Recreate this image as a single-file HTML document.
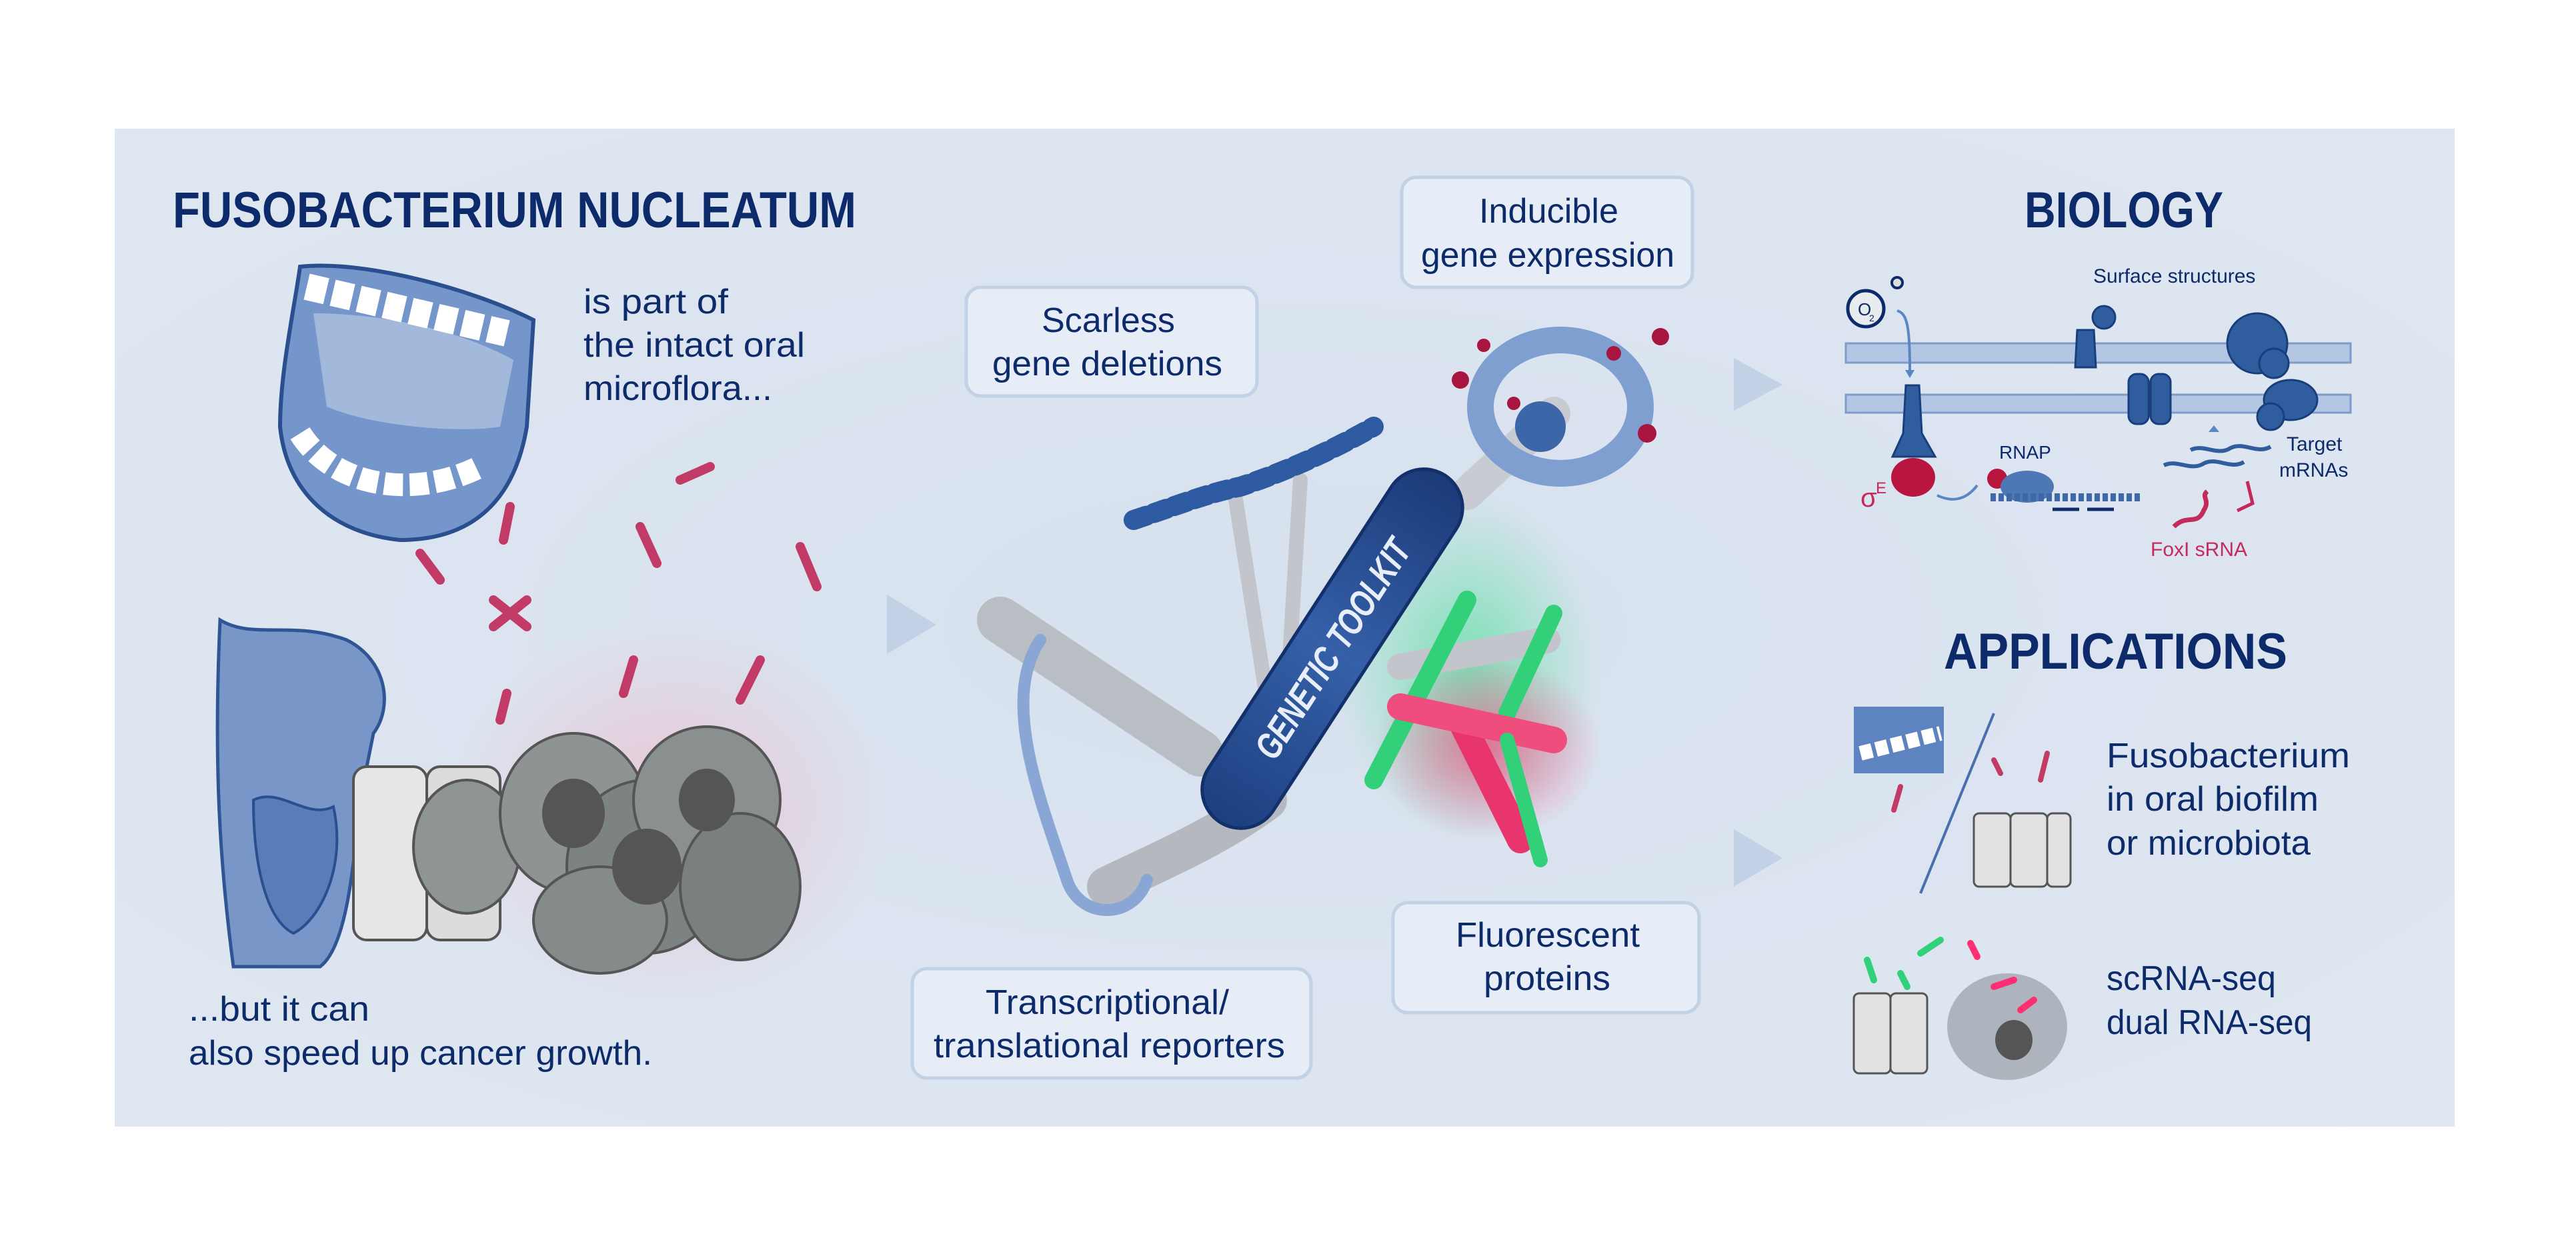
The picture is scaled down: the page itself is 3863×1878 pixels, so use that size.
<!DOCTYPE html>
<html><head><meta charset="utf-8"><style>
html,body{margin:0;padding:0;background:#fff;}
svg{display:block;}
text{font-family:"Liberation Sans",sans-serif;}
</style></head><body>
<svg width="3863" height="1878" viewBox="0 0 3863 1878" xmlns="http://www.w3.org/2000/svg">
<defs>
<radialGradient id="bg" cx="50%" cy="50%" r="70%">
<stop offset="0" stop-color="#d7e1ee"/><stop offset="1" stop-color="#dfe7f1"/></radialGradient>
<radialGradient id="pink" cx="50%" cy="50%" r="50%"><stop offset="0" stop-color="#f0b8c8" stop-opacity=".7"/><stop offset="1" stop-color="#f0b8c8" stop-opacity="0"/></radialGradient>
<radialGradient id="gl" cx="50%" cy="50%" r="50%"><stop offset="0" stop-color="#40e090" stop-opacity=".6"/><stop offset="1" stop-color="#40e090" stop-opacity="0"/></radialGradient>
<radialGradient id="rl" cx="50%" cy="50%" r="50%"><stop offset="0" stop-color="#ff3070" stop-opacity=".6"/><stop offset="1" stop-color="#ff3070" stop-opacity="0"/></radialGradient>
<linearGradient id="hand" x1="0" y1="0" x2="1" y2="0"><stop offset="0" stop-color="#1d3f80"/><stop offset=".5" stop-color="#3560a8"/><stop offset="1" stop-color="#1b3a78"/></linearGradient>
</defs>
<rect x="172" y="193" width="3509" height="1497" fill="url(#bg)"/>

<g fill="#0d2a6b" font-weight="bold">
<text x="259" y="341" font-size="76" textLength="1025" lengthAdjust="spacingAndGlyphs">FUSOBACTERIUM NUCLEATUM</text>
<text x="3036" y="341" font-size="76" textLength="298" lengthAdjust="spacingAndGlyphs">BIOLOGY</text>
<text x="2915" y="1003" font-size="76" textLength="515" lengthAdjust="spacingAndGlyphs">APPLICATIONS</text>
</g>
<g fill="#0d2a6b" font-size="52">
<text x="875" y="470" textLength="217" lengthAdjust="spacingAndGlyphs">is part of</text>
<text x="875" y="535" textLength="332" lengthAdjust="spacingAndGlyphs">the intact oral</text>
<text x="875" y="600" textLength="283" lengthAdjust="spacingAndGlyphs">microflora...</text>
<text x="283" y="1531" textLength="271" lengthAdjust="spacingAndGlyphs">...but it can</text>
<text x="283" y="1597" textLength="695" lengthAdjust="spacingAndGlyphs">also speed up cancer growth.</text>
<text x="3159" y="1151" textLength="365" lengthAdjust="spacingAndGlyphs">Fusobacterium</text>
<text x="3159" y="1216" textLength="318" lengthAdjust="spacingAndGlyphs">in oral biofilm</text>
<text x="3159" y="1282" textLength="306" lengthAdjust="spacingAndGlyphs">or microbiota</text>
<text x="3159" y="1485" textLength="254" lengthAdjust="spacingAndGlyphs">scRNA-seq</text>
<text x="3159" y="1551" textLength="308" lengthAdjust="spacingAndGlyphs">dual RNA-seq</text>
</g>

<g fill="#e6edf6" stroke="#c3d1e5" stroke-width="5">
<rect x="1449" y="431" width="436" height="163" rx="22"/>
<rect x="2102" y="266" width="436" height="165" rx="22"/>
<rect x="1368" y="1453" width="598" height="164" rx="22"/>
<rect x="2089" y="1354" width="459" height="165" rx="22"/>
</g>
<g fill="#0d2a6b" font-size="52">
<text x="1562" y="498" textLength="200" lengthAdjust="spacingAndGlyphs">Scarless</text>
<text x="1488" y="563" textLength="345" lengthAdjust="spacingAndGlyphs">gene deletions</text>
<text x="2218" y="334" textLength="209" lengthAdjust="spacingAndGlyphs">Inducible</text>
<text x="2131" y="400" textLength="380" lengthAdjust="spacingAndGlyphs">gene expression</text>
<text x="1478" y="1521" textLength="365" lengthAdjust="spacingAndGlyphs">Transcriptional/</text>
<text x="1400" y="1586" textLength="527" lengthAdjust="spacingAndGlyphs">translational reporters</text>
<text x="2183" y="1420" textLength="276" lengthAdjust="spacingAndGlyphs">Fluorescent</text>
<text x="2225" y="1485" textLength="190" lengthAdjust="spacingAndGlyphs">proteins</text>
</g>

<g fill="#c2d1e6">
<polygon points="1330,892 1404,937 1330,981"/>
<polygon points="2600,537 2673,577 2600,616"/>
<polygon points="2600,1244 2673,1287 2600,1330"/>
</g>

<!-- jaw -->
<g>
<path d="M450,400 C540,390 700,430 800,480 L790,640 C770,760 700,810 600,810 C500,800 430,740 420,640 C420,560 440,470 450,400Z" fill="#7496ca" stroke="#2a4f8f" stroke-width="6"/>
<path d="M470,470 C560,470 680,490 770,540 L750,640 C690,650 560,640 490,610Z" fill="#a3b9dc"/>
<path d="M460,430 L760,500" stroke="#fff" stroke-width="40" stroke-dasharray="30 10"/>
<path d="M450,650 C500,730 620,750 720,700" stroke="#fff" stroke-width="34" fill="none" stroke-dasharray="28 10"/>
</g>
<!-- body -->
<path d="M330,930 C380,960 440,930 520,960 C580,990 590,1060 560,1100 L540,1200 C530,1300 520,1420 480,1450 L350,1450 C330,1300 320,1150 330,930Z" fill="#7896c8" stroke="#2f5595" stroke-width="5"/>
<path d="M380,1200 C420,1180 460,1230 500,1210 C520,1300 480,1380 440,1400 C400,1380 380,1300 380,1200Z" fill="#5a7cb8" stroke="#2a4f8f" stroke-width="4"/>
<ellipse cx="1000" cy="1220" rx="330" ry="290" fill="url(#pink)"/>
<g stroke="#555" stroke-width="4">
<rect x="530" y="1150" width="110" height="260" rx="20" fill="#e6e6e6"/>
<rect x="640" y="1150" width="110" height="260" rx="20" fill="#dcdcdc"/>
<ellipse cx="700" cy="1270" rx="80" ry="100" fill="#8f9494"/>
<ellipse cx="860" cy="1220" rx="110" ry="120" fill="#8e9393"/>
<ellipse cx="970" cy="1300" rx="120" ry="130" fill="#7d8383"/>
<ellipse cx="1060" cy="1200" rx="110" ry="110" fill="#8a8f8f"/>
<ellipse cx="1110" cy="1330" rx="90" ry="110" fill="#7a7f7f"/>
<ellipse cx="900" cy="1380" rx="100" ry="80" fill="#858a8a"/>
<ellipse cx="860" cy="1220" rx="45" ry="50" fill="#555"/>
<ellipse cx="970" cy="1300" rx="50" ry="55" fill="#555"/>
<ellipse cx="1060" cy="1200" rx="40" ry="45" fill="#555"/>
</g>
<g stroke="#c23a66" stroke-width="14" stroke-linecap="round">
<line x1="1020" y1="720" x2="1065" y2="700"/>
<line x1="960" y1="790" x2="985" y2="845"/>
<line x1="1200" y1="820" x2="1225" y2="880"/>
<line x1="630" y1="830" x2="660" y2="870"/>
<line x1="740" y1="900" x2="790" y2="940"/><line x1="790" y1="900" x2="740" y2="940"/>
<line x1="950" y1="990" x2="935" y2="1040"/>
<line x1="1140" y1="990" x2="1110" y2="1050"/>
<line x1="760" y1="1040" x2="750" y2="1080"/>
<line x1="765" y1="760" x2="755" y2="810"/>
</g>

<!-- toolkit -->
<ellipse cx="2200" cy="1000" rx="200" ry="260" fill="url(#gl)"/>
<ellipse cx="2230" cy="1120" rx="170" ry="140" fill="url(#rl)"/>
<g stroke-linecap="round" fill="none">
<path d="M1800,1130 L1500,930" stroke="#b9bec4" stroke-width="70"/>
<path d="M1900,1200 C1820,1260 1720,1300 1660,1330" stroke="#b5b9bf" stroke-width="60"/>
<path d="M1900,1050 L1850,730" stroke="#c2c6cc" stroke-width="22"/>
<path d="M1930,1050 L1950,720" stroke="#c2c6cc" stroke-width="22"/>
<path d="M2100,1000 L2320,960" stroke="#c2c6cc" stroke-width="40"/>
<path d="M2200,740 L2330,620" stroke="#c8ccd2" stroke-width="50"/>
<path d="M1560,960 C1500,1050 1560,1200 1600,1320 C1620,1380 1700,1380 1720,1320" stroke="#8aa6d4" stroke-width="18"/>
<path d="M1700,780 C1760,760 1810,740 1860,730 C1920,710 1990,680 2060,640" stroke="#2d5aa0" stroke-width="30" stroke-dasharray="20 12"/>
<path d="M2060,1170 L2200,900" stroke="#33d07a" stroke-width="28"/>
<path d="M2260,1070 L2330,920" stroke="#33d07a" stroke-width="26"/>
<path d="M2190,1080 L2280,1260" stroke="#e8356e" stroke-width="40"/>
<path d="M2100,1060 L2330,1110" stroke="#ee4d7e" stroke-width="40"/>
<path d="M2260,1110 L2310,1290" stroke="#33d07a" stroke-width="22"/>
</g>
<ellipse cx="2340" cy="610" rx="120" ry="100" fill="none" stroke="#7f9fd0" stroke-width="40"/>
<circle cx="2310" cy="640" r="38" fill="#3c66a8"/>
<g fill="#a8153f"><circle cx="2190" cy="570" r="13"/><circle cx="2225" cy="518" r="10"/><circle cx="2420" cy="530" r="11"/><circle cx="2490" cy="505" r="13"/><circle cx="2470" cy="650" r="14"/><circle cx="2270" cy="605" r="10"/></g>
<g transform="translate(1998,973) rotate(-57)">
<rect x="-310" y="-58" width="620" height="116" rx="58" fill="url(#hand)" stroke="#13306a" stroke-width="5"/>
<text x="0" y="20" font-size="56" font-weight="bold" font-style="italic" fill="#e8eef8" text-anchor="middle" textLength="380" lengthAdjust="spacingAndGlyphs">GENETIC TOOLKIT</text>
</g>

<!-- biology diagram -->
<g fill="#b3c6e4" stroke="#7d9bcb" stroke-width="3">
<rect x="2768" y="515" width="757" height="29"/>
<rect x="2768" y="592" width="757" height="27"/>
</g>
<circle cx="2798" cy="463" r="27" fill="#e9ecef" stroke="#0d2a6b" stroke-width="5"/>
<text x="2786" y="473" font-size="26" fill="#0d2a6b">O</text>
<text x="2803" y="482" font-size="14" fill="#0d2a6b">2</text>
<circle cx="2845" cy="424" r="8" fill="#ddd" stroke="#0d2a6b" stroke-width="4"/>
<path d="M2845,466 C2860,470 2864,490 2864,555" stroke="#5b86c4" stroke-width="4" fill="none"/>
<polygon points="2857,555 2871,555 2864,567" fill="#5b86c4"/>
<g fill="#2f5d9e" stroke="#183f7b" stroke-width="3">
<path d="M2858,578 L2878,578 L2882,650 L2902,685 L2838,685 L2854,650Z"/>
<path d="M3115,495 L3140,495 L3143,551 L3112,551Z"/>
<circle cx="3155" cy="476" r="17"/>
<rect x="3192" y="561" width="30" height="75" rx="12"/>
<rect x="3225" y="561" width="30" height="75" rx="12"/>
<ellipse cx="3385" cy="515" rx="45" ry="45"/>
<circle cx="3410" cy="545" r="22"/>
<ellipse cx="3435" cy="600" rx="40" ry="30"/>
<circle cx="3405" cy="625" r="20"/>
</g>
<ellipse cx="2869" cy="716" rx="33" ry="29" fill="#b8163f"/>
<text x="2790" y="760" font-size="40" fill="#c42a5a">σ</text>
<text x="2813" y="740" font-size="24" fill="#c42a5a">E</text>
<path d="M2905,743 C2930,755 2950,748 2965,728" stroke="#5b86c4" stroke-width="4" fill="none"/>
<circle cx="2995" cy="718" r="15" fill="#b8163f"/>
<ellipse cx="3040" cy="730" rx="40" ry="24" fill="#4e78b5"/>
<text x="2998" y="688" font-size="28" fill="#0d2a6b">RNAP</text>
<path d="M2985,746 L3210,746" stroke="#3e68a8" stroke-width="12" stroke-dasharray="8 4"/>
<path d="M3078,764 L3118,764 M3130,764 L3170,764" stroke="#0d2a6b" stroke-width="5"/>
<path d="M3245,698 C3265,688 3285,708 3305,695 C3325,685 3345,705 3365,693" stroke="#2f5d9e" stroke-width="6" fill="none"/>
<path d="M3285,675 C3305,665 3325,685 3345,672 C3365,662 3385,682 3405,670" stroke="#2f5d9e" stroke-width="6" fill="none"/>
<polygon points="3312,648 3320,638 3328,648" fill="#5b86c4"/>
<text x="3429" y="676" font-size="30" fill="#0d2a6b">Target</text>
<text x="3418" y="715" font-size="30" fill="#0d2a6b">mRNAs</text>
<path d="M3260,790 C3280,770 3295,790 3305,765 C3315,750 3300,745 3310,737" stroke="#c42a5a" stroke-width="7" fill="none"/>
<path d="M3370,722 L3378,755 L3355,766" stroke="#c42a5a" stroke-width="5" fill="none"/>
<text x="3225" y="834" font-size="30" fill="#c42a5a">FoxI sRNA</text>
<text x="3139" y="424" font-size="30" fill="#0d2a6b">Surface structures</text>

<!-- applications icons -->
<rect x="2780" y="1060" width="135" height="100" fill="#5d83c0"/>
<path d="M2790,1130 L2910,1100" stroke="#fff" stroke-width="22" stroke-dasharray="18 6"/>
<line x1="2990" y1="1070" x2="2880" y2="1340" stroke="#4a6fae" stroke-width="4"/>
<g stroke="#555" stroke-width="3" fill="#e2e2e2">
<rect x="2960" y="1220" width="55" height="110" rx="8"/><rect x="3015" y="1220" width="55" height="110" rx="8"/><rect x="3070" y="1220" width="35" height="110" rx="8"/>
<rect x="2780" y="1490" width="55" height="120" rx="8"/><rect x="2835" y="1490" width="55" height="120" rx="8"/>
</g>
<ellipse cx="3010" cy="1540" rx="90" ry="80" fill="#9aa0a6" opacity=".7"/>
<ellipse cx="3020" cy="1560" rx="28" ry="30" fill="#555"/>
<g stroke="#c23a66" stroke-width="8" stroke-linecap="round">
<line x1="2990" y1="1140" x2="3000" y2="1160"/><line x1="3070" y1="1130" x2="3060" y2="1170"/><line x1="2850" y1="1180" x2="2840" y2="1215"/>
</g>
<g stroke="#2fd27b" stroke-width="10" stroke-linecap="round"><line x1="2800" y1="1440" x2="2810" y2="1470"/><line x1="2880" y1="1430" x2="2910" y2="1410"/><line x1="2850" y1="1460" x2="2860" y2="1480"/></g>
<g stroke="#ff2f72" stroke-width="10" stroke-linecap="round"><line x1="2990" y1="1480" x2="3020" y2="1470"/><line x1="3030" y1="1515" x2="3050" y2="1500"/><line x1="2955" y1="1415" x2="2965" y2="1435"/></g>
</svg>
</body></html>
